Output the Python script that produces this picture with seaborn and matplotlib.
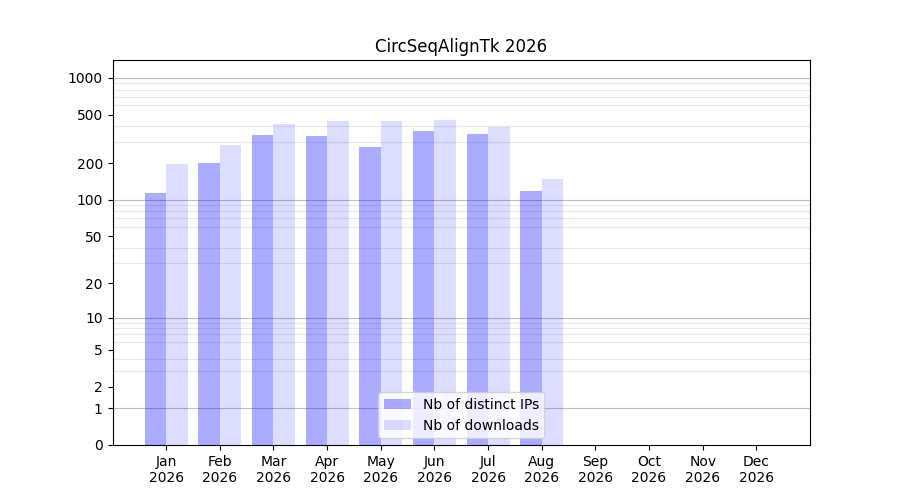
import matplotlib
matplotlib.use("Agg")
import matplotlib.pyplot as plt
import numpy as np
import pandas as pd
import seaborn as sns

months = ["Jan", "Feb", "Mar", "Apr", "May", "Jun", "Jul", "Aug", "Sep", "Oct", "Nov", "Dec"]
year = "2026"
distinct_ips = [114, 201, 341, 335, 272, 368, 348, 118, 0, 0, 0, 0]
downloads = [198, 283, 420, 445, 445, 453, 397, 149, 0, 0, 0, 0]
series_names = ["Nb of distinct IPs", "Nb of downloads"]
ytick_values = [0, 1, 2, 5, 10, 20, 50, 100, 200, 500, 1000]

tick_labels = [f"{m}\n{year}" for m in months]
df = pd.DataFrame({
    "month": tick_labels * 2,
    "series": [series_names[0]] * len(months) + [series_names[1]] * len(months),
    "value": distinct_ips + downloads,
})


def fwd(x):
    return np.log10(np.asarray(x, dtype=float) + 1)


def inv(y):
    return 10 ** np.asarray(y, dtype=float) - 1


fig, ax = plt.subplots(figsize=(9, 5), dpi=100)
colors = [(0, 0, 1, 0.33), (0, 0, 1, 0.133)]
sns.barplot(
    data=df, x="month", y="value", hue="series", order=tick_labels,
    hue_order=series_names, palette=colors, width=0.8, ax=ax,
    saturation=1, errorbar=None,
)
# enforce transparent colours on each series
for container, c in zip(ax.containers, colors):
    for p in container:
        p.set_facecolor(c)
        p.set_edgecolor("none")

ax.set_yscale("function", functions=(fwd, inv))
ax.set_ylim(0, 1400)
ax.set_xlim(-1, 12)
ax.set_yticks(ytick_values)
ax.set_yticklabels([str(v) for v in ytick_values])
minor = [m * 10 ** k for k in range(0, 4) for m in range(2, 10) if m * 10 ** k < 1400]
ax.set_yticks(minor, minor=True)
ax.tick_params(axis="y", which="minor", length=0)
ax.grid(axis="y", which="minor", color="#e8e8e8", linewidth=0.8)
for d in [1, 10, 100, 1000]:
    ax.axhline(d, color="#bfbfbf", linewidth=0.8, zorder=0.5)
ax.set_axisbelow(True)

ax.set_xlabel("")
ax.set_ylabel("")
ax.set_title(f"CircSeqAlignTk {year}")
handles, labels = ax.get_legend_handles_labels()
for h, c in zip(handles, colors):
    h.set_facecolor(c)
ax.legend(handles, labels, loc="lower center")

fig.savefig("out.png", dpi=100)
